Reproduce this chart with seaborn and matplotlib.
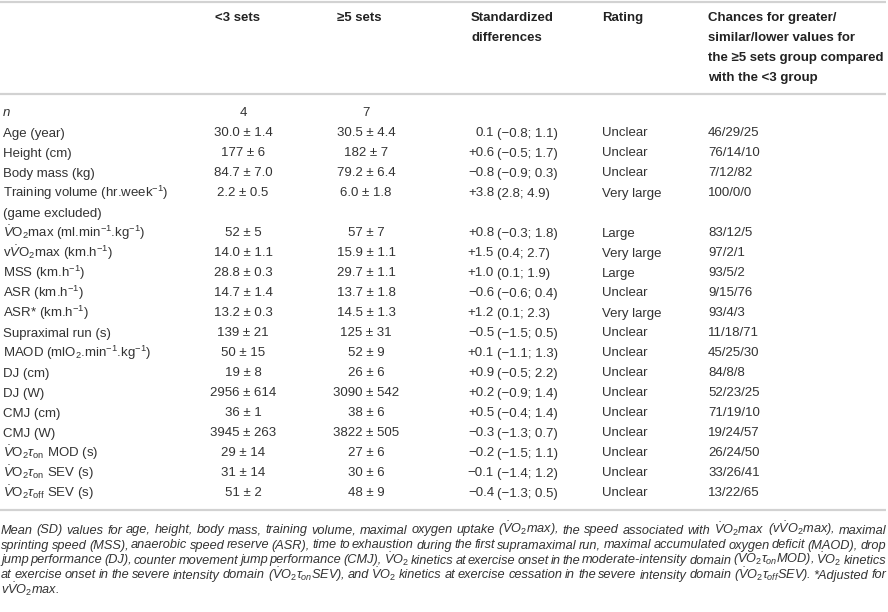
import matplotlib
matplotlib.use("Agg")
import matplotlib.pyplot as plt
import seaborn as sns

# table content
groups = ["<3 sets", "≥5 sets"]
n_players = [4, 7]

variables = [
    "Age (year)",
    "Height (cm)",
    "Body mass (kg)",
    "Training volume (hr.week$^{-1}$)\n(game excluded)",
    r"$\dot{V}$O$_2$max (ml.min$^{-1}$.kg$^{-1}$)",
    r"v$\dot{V}$O$_2$max (km.h$^{-1}$)",
    "MSS (km.h$^{-1}$)",
    "ASR (km.h$^{-1}$)",
    "ASR* (km.h$^{-1}$)",
    "Supraximal run (s)",
    "MAOD (mlO$_2$.min$^{-1}$.kg$^{-1}$)",
    "DJ (cm)",
    "DJ (W)",
    "CMJ (cm)",
    "CMJ (W)",
    r"$\dot{V}$O$_2\tau_{\mathrm{on}}$ MOD (s)",
    r"$\dot{V}$O$_2\tau_{\mathrm{on}}$ SEV (s)",
    r"$\dot{V}$O$_2\tau_{\mathrm{off}}$ SEV (s)",
]
lt3_mean = ["30.0", "177", "84.7", "2.2", "52", "14.0", "28.8", "14.7", "13.2",
            "139", "50", "19", "2956", "36", "3945", "29", "31", "51"]
lt3_sd = ["1.4", "6", "7.0", "0.5", "5", "1.1", "0.3", "1.4", "0.3",
          "21", "15", "8", "614", "1", "263", "14", "14", "2"]
ge5_mean = ["30.5", "182", "79.2", "6.0", "57", "15.9", "29.7", "13.7", "14.5",
            "125", "52", "26", "3090", "38", "3822", "27", "30", "48"]
ge5_sd = ["4.4", "7", "6.4", "1.8", "7", "1.1", "1.1", "1.8", "1.3",
          "31", "9", "6", "542", "6", "505", "6", "6", "9"]
std_diff = ["0.1", "+0.6", "−0.8", "+3.8", "+0.8", "+1.5", "+1.0", "−0.6", "+1.2",
            "−0.5", "+0.1", "+0.9", "+0.2", "+0.5", "−0.3", "−0.2", "−0.1", "−0.4"]
ci_low = ["−0.8", "−0.5", "−0.9", "2.8", "−0.3", "0.4", "0.1", "−0.6", "0.1",
          "−1.5", "−1.1", "−0.5", "−0.9", "−0.4", "−1.3", "−1.5", "−1.4", "−1.3"]
ci_high = ["1.1", "1.7", "0.3", "4.9", "1.8", "2.7", "1.9", "0.4", "2.3",
           "0.5", "1.3", "2.2", "1.4", "1.4", "0.7", "1.1", "1.2", "0.5"]
ratings = ["Unclear", "Unclear", "Unclear", "Very large", "Large", "Very large",
           "Large", "Unclear", "Very large"] + ["Unclear"] * 9
chances = ["46/29/25", "76/14/10", "7/12/82", "100/0/0", "83/12/5", "97/2/1",
           "93/5/2", "9/15/76", "93/4/3", "11/18/71", "45/25/30", "84/8/8",
           "52/23/25", "71/19/10", "19/24/57", "26/24/50", "33/26/41", "13/22/65"]

headers = [
    ["Standardized", "differences"],
    ["Rating"],
    ["Chances for greater/", "similar/lower values for",
     "the ≥5 sets group compared", "with the <3 group"],
]

caption_lines = [
    r"Mean (SD) values for age, height, body mass, training volume, maximal oxygen uptake ($\dot{V}$O$_{\mathit{2}}$max), the speed associated with $\dot{V}$O$_{\mathit{2}}$max (v$\dot{V}$O$_{\mathit{2}}$max), maximal",
    "sprinting speed (MSS), anaerobic speed reserve (ASR), time to exhaustion during the first supramaximal run, maximal accumulated oxygen deficit (MAOD), drop",
    r"jump performance (DJ), counter movement jump performance (CMJ), $\dot{V}$O$_{\mathit{2}}$ kinetics at exercise onset in the moderate-intensity domain ($\dot{V}$O$_{\mathit{2}}\tau_{\mathit{on}}$MOD), $\dot{V}$O$_{\mathit{2}}$ kinetics",
    r"at exercise onset in the severe intensity domain ($\dot{V}$O$_{\mathit{2}}\tau_{\mathit{on}}$SEV), and $\dot{V}$O$_{\mathit{2}}$ kinetics at exercise cessation in the severe intensity domain ($\dot{V}$O$_{\mathit{2}}\tau_{\mathit{off}}$SEV). *Adjusted for",
    r"v$\dot{V}$O$_{\mathit{2}}$max.",
]

sns.set_theme(style="white")
plt.rcParams["font.family"] = ["Liberation Sans", "DejaVu Sans"]
plt.rcParams["mathtext.fontset"] = "custom"
plt.rcParams["mathtext.rm"] = "Liberation Sans"
plt.rcParams["mathtext.it"] = "Liberation Sans:italic"
plt.rcParams["mathtext.bf"] = "Liberation Sans:bold"

W, H = 888, 612
fig = plt.figure(figsize=(W / 100, H / 100), dpi=100)
ax = fig.add_axes([0, 0, 1, 1])
ax.set_xlim(0, W)
ax.set_ylim(H, 0)
ax.axis("off")

txt = "#333333"
head_c = "#222222"
rule = "#d2d2d2"
fs = 9.5
row_h = 20
first_base = 116.5
head_base = 21.4

# horizontal rules
for yy in (2.0, 93.5, 509.5):
    ax.plot([0, 886], [yy, yy], color=rule, lw=1.6, solid_capstyle="butt")

# header
ax.text(215, head_base, groups[0], fontsize=fs, fontweight="bold", color=head_c)
ax.text(337, head_base, groups[1], fontsize=fs, fontweight="bold", color=head_c)
for hx, lines in zip((471, 602, 708), headers):
    for k, s in enumerate(lines):
        ax.text(hx, head_base + k * row_h, s, fontsize=fs,
                fontweight="bold", color=head_c)

# n row
ax.text(3, first_base, "n", fontsize=fs, fontstyle="italic", color=txt)
ax.text(243, first_base, str(n_players[0]), fontsize=fs, ha="center", color=txt)
ax.text(366, first_base, str(n_players[1]), fontsize=fs, ha="center", color=txt)

# body rows
r = 1
for i, lab in enumerate(variables):
    y = first_base + r * row_h
    parts = lab.split("\n")
    for k, p in enumerate(parts):
        ax.text(3, y + k * row_h, p, fontsize=fs, color=txt)
    ax.text(243, y, f"{lt3_mean[i]} ± {lt3_sd[i]}", fontsize=fs, ha="center", color=txt)
    ax.text(366, y, f"{ge5_mean[i]} ± {ge5_sd[i]}", fontsize=fs, ha="center", color=txt)
    ax.text(494, y, std_diff[i], fontsize=fs, ha="right", color=txt)
    ax.text(497, y, f"({ci_low[i]}; {ci_high[i]})", fontsize=fs, color=txt)
    ax.text(602, y, ratings[i], fontsize=fs, color=txt)
    ax.text(708, y, chances[i], fontsize=fs, color=txt)
    r += len(parts)

# caption, justified
cap_fs = 9.2
cap_left, cap_right = 1, 886
cap_base = 533.5
cap_step = 15
fig.canvas.draw()
renderer = fig.canvas.get_renderer()
for i, line in enumerate(caption_lines):
    words = line.split(" ")
    y = cap_base + i * cap_step
    arts = [ax.text(0, y, w, fontsize=cap_fs, fontstyle="italic", color=txt)
            for w in words]
    widths = [a.get_window_extent(renderer).width for a in arts]
    if i < len(caption_lines) - 1 and len(words) > 1:
        gap = (cap_right - cap_left - sum(widths)) / (len(words) - 1)
    else:
        gap = 2.5
    x = cap_left
    for a, w in zip(arts, widths):
        a.set_x(x)
        x += w + gap

fig.savefig("out.png", dpi=100)
